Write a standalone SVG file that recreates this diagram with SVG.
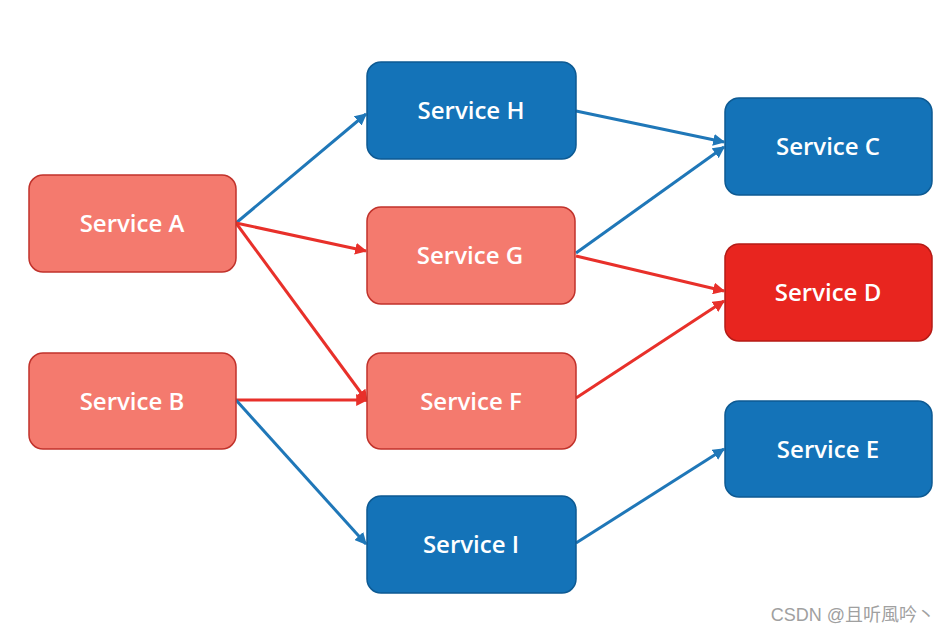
<svg xmlns="http://www.w3.org/2000/svg" width="949" height="635" viewBox="0 0 949 635">
<defs>
<style>
.n rect{stroke-width:1.5}
.blue rect{fill:#1473B8;stroke:#0D5A93}
.pink rect{fill:#F47A6E;stroke:#C1322B}
.red rect{fill:#E8251F;stroke:#B51B16}
.n text{fill:#fff;font-family:"Open Sans","Noto Sans","DejaVu Sans",sans-serif;font-size:24px;font-weight:600;text-anchor:middle;dominant-baseline:central}
.cb{stroke:#1F77B8;stroke-width:3;fill:none;marker-end:url(#ab)}
.cr{stroke:#E8302A;stroke-width:3;fill:none;marker-end:url(#ar)}
</style>
<marker id="ab" viewBox="0 0 10 10" refX="9" refY="5" markerWidth="4" markerHeight="4" orient="auto" markerUnits="strokeWidth"><path d="M0,0 L10,5 L0,10 z" fill="#1F77B8"/></marker>
<marker id="ar" viewBox="0 0 10 10" refX="9" refY="5" markerWidth="4" markerHeight="4" orient="auto" markerUnits="strokeWidth"><path d="M0,0 L10,5 L0,10 z" fill="#E8302A"/></marker>
</defs>
<rect width="949" height="635" fill="#fff"/>
<g id="connectors">
<line class="cb" x1="236" y1="223" x2="366" y2="114"/>
<line class="cr" x1="236" y1="223" x2="366" y2="251"/>
<line class="cr" x1="236" y1="223" x2="367" y2="401"/>
<line class="cr" x1="236" y1="400" x2="367" y2="400"/>
<line class="cb" x1="236" y1="400" x2="366" y2="544"/>
<line class="cb" x1="576" y1="111" x2="724" y2="142"/>
<line class="cb" x1="576" y1="253" x2="724" y2="147"/>
<line class="cr" x1="576" y1="256" x2="724" y2="291"/>
<line class="cr" x1="576" y1="398" x2="724" y2="301"/>
<line class="cb" x1="576" y1="543" x2="724" y2="449"/>
</g>
<g id="serviceA" class="n pink"><rect x="29" y="175" width="207" height="97" rx="14"/><text x="132" y="222">Service A</text></g>
<g id="serviceB" class="n pink"><rect x="29" y="353" width="207" height="96" rx="14"/><text x="132" y="400">Service B</text></g>
<g id="serviceH" class="n blue"><rect x="367" y="62" width="209" height="97" rx="14"/><text x="471" y="109">Service H</text></g>
<g id="serviceG" class="n pink"><rect x="367" y="207" width="208" height="97" rx="14"/><text x="470" y="254">Service G</text></g>
<g id="serviceF" class="n pink"><rect x="367" y="353" width="209" height="96" rx="14"/><text x="471" y="400">Service F</text></g>
<g id="serviceI" class="n blue"><rect x="367" y="496" width="209" height="97" rx="14"/><text x="471" y="543">Service I</text></g>
<g id="serviceC" class="n blue"><rect x="725" y="98" width="207" height="97" rx="14"/><text x="828" y="145">Service C</text></g>
<g id="serviceD" class="n red"><rect x="725" y="244" width="207" height="97" rx="14"/><text x="828" y="291">Service D</text></g>
<g id="serviceE" class="n blue"><rect x="725" y="401" width="207" height="96" rx="14"/><text x="828" y="448">Service E</text></g>
<text x="935" y="621" text-anchor="end" fill="#a0a0a0" font-family="'Liberation Sans','Noto Sans CJK SC',sans-serif" font-size="18">CSDN @且听風吟丶</text>
</svg>
